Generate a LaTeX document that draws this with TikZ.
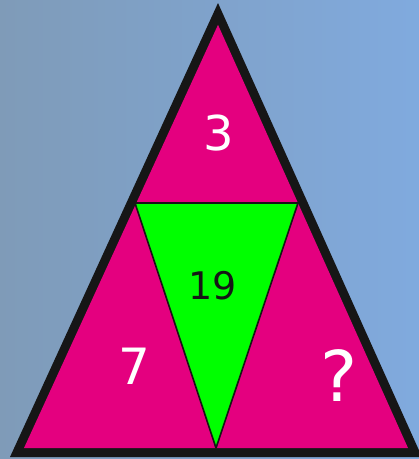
\documentclass[tikz,border=0pt]{standalone}
\usepackage{fontspec}
\setmainfont{DejaVu Sans}
\definecolor{bgleft}{RGB}{127,155,184}
\definecolor{bgright}{RGB}{128,170,222}
\definecolor{mag}{RGB}{228,0,127}
\definecolor{grn}{RGB}{0,255,0}
\definecolor{blk}{RGB}{22,22,22}
\begin{document}
\begin{tikzpicture}[x=1pt,y=-1pt,
  piece/.style={fill=mag},
  num/.style={inner sep=0pt,anchor=center,text=white}]
\useasboundingbox (0,0) rectangle (419,459);
\shade[left color=bgleft,right color=bgright] (0,0) rectangle (419,459);
\begin{scope}
\clip (0,0) rectangle (419,459);
% outer black triangle
\coordinate (OA) at (218,3);
\coordinate (OB) at (10,457);
\coordinate (OC) at (422,457);
\fill[blk] (OA) -- (OB) -- (OC) -- cycle;
\end{scope}
% inner pieces
\coordinate (T) at (218,24.8);
\coordinate (L) at (24,448);
\coordinate (R) at (408,448);
\coordinate (GL) at (135,203);
\coordinate (GR) at (298,203);
\coordinate (GB) at (216,448);
\fill[piece] (T) -- (L) -- (R) -- cycle;
\draw[blk,line width=1.6pt,fill=grn,line join=round] (GL) -- (GR) -- (GB) -- cycle;
\node[num,font=\fontsize{48}{48}\selectfont] (n3) at (219,133) {3};
\node[num,text=blk,font=\fontsize{38}{38}\selectfont] (n19) at (213,286) {19};
\node[num,font=\fontsize{50}{50}\selectfont] (n7) at (134,366) {7};
\node[num,font=\fontsize{70}{70}\selectfont] (nq) at (339,376) {?};
\end{tikzpicture}
\end{document}
